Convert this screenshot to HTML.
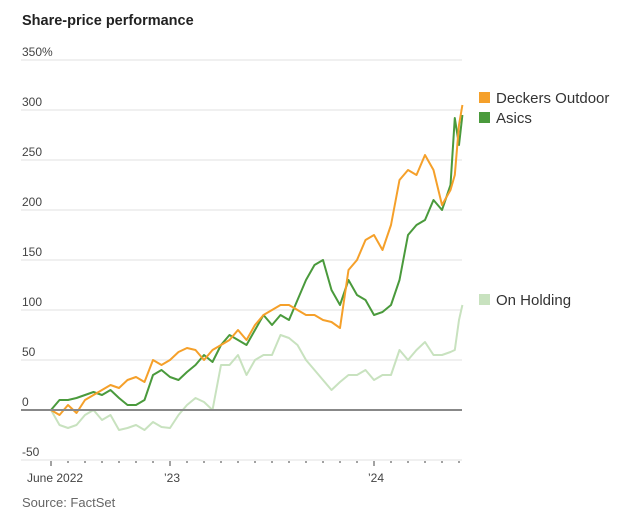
<!DOCTYPE html>
<html><head><meta charset="utf-8"><style>
body{margin:0;background:#fff;font-family:"Liberation Sans",sans-serif;}
svg text{font-family:"Liberation Sans",sans-serif;}
</style></head><body>
<svg id="chart" width="624" height="523" viewBox="0 0 624 523">
<text x="22" y="25" font-size="14.5" font-weight="bold" fill="#222">Share-price performance</text>
<g id="grid"></g><g id="series"></g><g id="xaxis"></g>
<g>
<rect x="479" y="92" width="11" height="11" fill="#f5a02a"/>
<text x="496" y="103" font-size="15" fill="#333">Deckers Outdoor</text>
<rect x="479" y="112" width="11" height="11" fill="#4a9a3c"/>
<text x="496" y="123" font-size="15" fill="#333">Asics</text>
<rect x="479" y="294" width="11" height="11" fill="#c8e2bf"/>
<text x="496" y="305" font-size="15" fill="#333">On Holding</text>
</g>
<text x="22" y="507" font-size="13" fill="#666">Source: FactSet</text>
</svg>
<script>
const months = [0,0.5,1,1.5,2,2.5,3,3.5,4,4.5,5,5.5,6,6.5,7,7.5,8,8.5,9,9.5,10,10.5,11,11.5,12,12.5,13,13.5,14,14.5,15,15.5,16,16.5,17,17.5,18,18.5,19,19.5,20,20.5,21,21.5,22,22.5,23,23.5,23.75,24,24.2];
const deckers = [0,-5,5,-3,10,15,20,25,22,30,33,28,50,45,50,58,62,60,50,60,65,70,80,70,85,95,100,105,105,100,95,95,90,88,82,140,150,170,175,160,185,230,240,235,255,240,205,220,235,285,305];
const asics = [0,10,10,12,15,18,15,20,12,5,5,10,35,40,33,30,38,45,55,48,65,75,70,65,80,95,85,95,90,110,130,145,150,120,105,130,115,110,95,98,105,130,175,185,190,210,200,225,292,265,295];
const onHolding = [0,-15,-18,-15,-5,0,-10,-5,-20,-18,-15,-20,-12,-17,-18,-5,5,12,8,0,45,45,55,35,50,55,55,75,72,65,50,40,30,20,28,35,35,40,30,35,35,60,50,60,68,55,55,58,60,90,105];
const yTicks = [-50,0,50,100,150,200,250,300,350];
const yTickLabels = ["-50","0","50","100","150","200","250","300","350%"];
const xLabelMonths = [0,7,19];
const xLabels = ["June 2022","\u201923","\u201924"];

const NS="http://www.w3.org/2000/svg";
const X0=51, PXM=17.0, Y0=410, PXV=1.0;
function x(t){return X0+t*PXM;}
function y(v){return Y0-v*PXV;}
function mk(tag,attrs,parent){const e=document.createElementNS(NS,tag);for(const k in attrs)e.setAttribute(k,attrs[k]);parent.appendChild(e);return e;}
const grid=document.getElementById('grid');
yTicks.forEach((v,i)=>{
  if(v!==0){const l=mk('line',{x1:21,x2:462,y1:y(v),y2:y(v),stroke:'#ebebeb','stroke-width':1.5},grid);
  
  }
  const t=mk('text',{x:22,y:y(v)-4,'font-size':12,fill:'#444'},grid);
  t.textContent=yTickLabels[i];
  
  
});
const ser=document.getElementById('series');
function line(vals,color,name,w){
  const d=vals.map((v,i)=>(i?'L':'M')+x(months[i]).toFixed(1)+','+y(v).toFixed(1)).join('');
  const p=mk('path',{d:d,fill:'none',stroke:color,'stroke-width':w,'stroke-linejoin':'round'},ser);
  
  
}
line(onHolding,'#c8e2bf','on-holding-line',2);
line(asics,'#4a9a3c','asics-line',2);
line(deckers,'#f5a02a','deckers-line',2);
const zl=mk('line',{x1:21,x2:462,y1:y(0),y2:y(0),stroke:'#888','stroke-width':2},ser);


const xa=document.getElementById('xaxis');
for(let m=0;m<=24;m++){
  const big=xLabelMonths.includes(m);
  const tk=mk('line',{x1:x(m),x2:x(m),y1:461,y2:big?466:463,stroke:'#444','stroke-width':1},xa);
  
  
}
xLabelMonths.forEach((m,i)=>{
  const t=mk('text',{x:i===0?x(m)-24:x(m)-6,y:482,'font-size':12,fill:'#444'},xa);
  t.textContent=xLabels[i];
  
  
});
</script>
</body></html>
